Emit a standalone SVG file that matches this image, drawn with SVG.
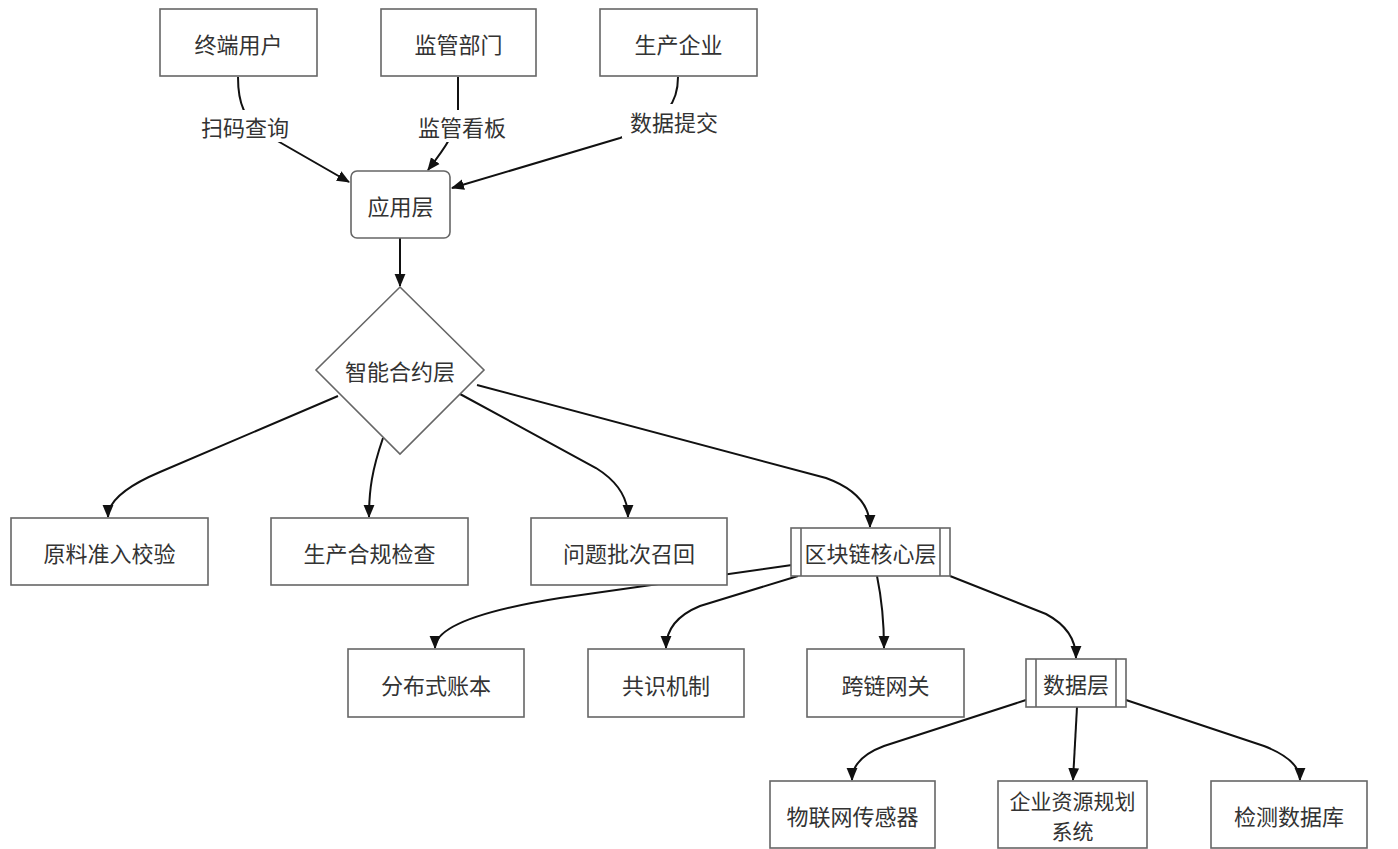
<svg xmlns="http://www.w3.org/2000/svg" width="1398" height="849" viewBox="0 0 1398 849">
<defs>
<style>
.node{fill:#fff;stroke:#666;stroke-width:1.6}
.edge{fill:none;stroke:#111;stroke-width:2}
.t{font-family:"Noto Sans CJK SC","Liberation Sans",sans-serif;font-size:22px;fill:#333;text-anchor:middle;dominant-baseline:central}
.t2{font-size:21px}
.lbg{fill:#fff}
</style>
<marker id="ah" viewBox="0 0 12 12" refX="11" refY="6" markerWidth="13" markerHeight="13" markerUnits="userSpaceOnUse" orient="auto">
<path d="M0,1 L12,6 L0,11 z" fill="#111"/>
</marker>
</defs>
<rect width="1398" height="849" fill="#fff"/>
<g id="connectors">
<path class="edge" d="M238,77 C238,105 245,118 262,132 L349,182" marker-end="url(#ah)"/>
<path class="edge" d="M458,77 L458,110 C458,130 445,148 428,170" marker-end="url(#ah)"/>
<path class="edge" d="M678,77 C678,100 670,120 620,138 L452,188" marker-end="url(#ah)"/>
<path class="edge" d="M400,238 L400,286" marker-end="url(#ah)"/>
<path class="edge" d="M338,396 L160,472 Q108,494 108,517" marker-end="url(#ah)"/>
<path class="edge" d="M383,438 C372,470 369,490 369,517" marker-end="url(#ah)"/>
<path class="edge" d="M460,394 L596,468 Q628,488 628,517" marker-end="url(#ah)"/>
<path class="edge" d="M477,385 L826,478 Q870,494 870,527" marker-end="url(#ah)"/>
<path class="edge" d="M792,565 L560,598 Q435,618 435,648" marker-end="url(#ah)"/>
<path class="edge" d="M798,576 L700,606 Q666,620 666,648" marker-end="url(#ah)"/>
<path class="edge" d="M877,576 Q884,610 884,648" marker-end="url(#ah)"/>
<path class="edge" d="M950,576 L1046,614 Q1076,630 1076,658" marker-end="url(#ah)"/>
<path class="edge" d="M1026,700 L884,746 Q852,758 852,780" marker-end="url(#ah)"/>
<path class="edge" d="M1077,707 L1073,780" marker-end="url(#ah)"/>
<path class="edge" d="M1126,700 L1264,746 Q1300,760 1300,780" marker-end="url(#ah)"/>
<g id="edge-labels">
<rect class="lbg" x="193" y="110" width="104" height="32"/>
<text class="t" x="245" y="126">扫码查询</text>
<rect class="lbg" x="410" y="110" width="104" height="32"/>
<text class="t" x="462" y="126">监管看板</text>
<rect class="lbg" x="622" y="104" width="104" height="34"/>
<text class="t" x="674" y="121">数据提交</text>
</g>
</g>
<g id="n-enduser"><rect class="node" x="160" y="9" width="157" height="67"/><text class="t" x="238.5" y="43">终端用户</text></g>
<g id="n-regulator"><rect class="node" x="381" y="9" width="155" height="67"/><text class="t" x="458.5" y="43">监管部门</text></g>
<g id="n-producer"><rect class="node" x="600" y="9" width="157" height="67"/><text class="t" x="678.5" y="43">生产企业</text></g>
<g id="n-app"><rect class="node" x="351" y="171" width="99" height="67" rx="6"/><text class="t" x="400.5" y="205">应用层</text></g>
<g id="n-contract"><polygon class="node" points="400,287 484,370 400,454 316,370"/><text class="t" x="400" y="370">智能合约层</text></g>
<g id="n-raw"><rect class="node" x="11" y="518" width="197" height="67"/><text class="t" x="109.5" y="552">原料准入校验</text></g>
<g id="n-compliance"><rect class="node" x="271" y="518" width="197" height="67"/><text class="t" x="369.5" y="552">生产合规检查</text></g>
<g id="n-recall"><rect class="node" x="531" y="518" width="196" height="67"/><text class="t" x="629" y="552">问题批次召回</text></g>
<g id="n-chain"><rect class="node" x="791" y="528" width="159" height="48"/><line class="node" x1="801" y1="528" x2="801" y2="576"/><line class="node" x1="940" y1="528" x2="940" y2="576"/><text class="t" x="870.5" y="552">区块链核心层</text></g>
<g id="n-ledger"><rect class="node" x="348" y="649" width="176" height="68"/><text class="t" x="436" y="684">分布式账本</text></g>
<g id="n-consensus"><rect class="node" x="588" y="649" width="156" height="68"/><text class="t" x="666" y="684">共识机制</text></g>
<g id="n-gateway"><rect class="node" x="807" y="649" width="157" height="68"/><text class="t" x="885.5" y="684">跨链网关</text></g>
<g id="n-data"><rect class="node" x="1026" y="659" width="100" height="48"/><line class="node" x1="1036" y1="659" x2="1036" y2="707"/><line class="node" x1="1116" y1="659" x2="1116" y2="707"/><text class="t" x="1076" y="683">数据层</text></g>
<g id="n-iot"><rect class="node" x="770" y="781" width="165" height="67"/><text class="t" x="852.5" y="815">物联网传感器</text></g>
<g id="n-erp"><rect class="node" x="998" y="781" width="149" height="67"/><text class="t t2" x="1072.5" y="800">企业资源规划</text><text class="t t2" x="1072.5" y="830">系统</text></g>
<g id="n-testdb"><rect class="node" x="1211" y="781" width="156" height="67"/><text class="t" x="1289" y="815">检测数据库</text></g>
</svg>
